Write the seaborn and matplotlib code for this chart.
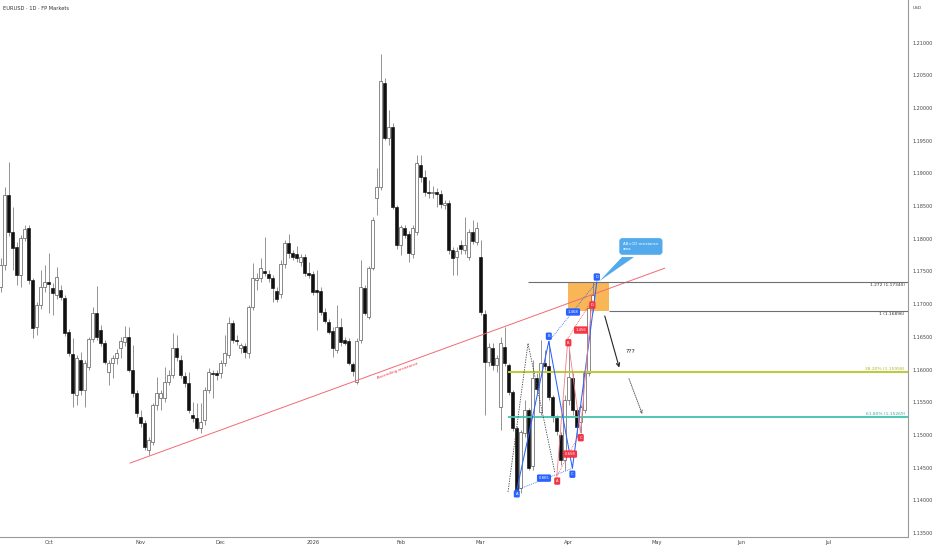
import numpy as np
import pandas as pd
import matplotlib
matplotlib.use("Agg")
import matplotlib.pyplot as plt
import seaborn as sns
from matplotlib.patches import Polygon, Rectangle

sns.set_theme(style="white")
plt.rcParams["font.family"] = ["DejaVu Sans"]

# ---------------- data ----------------
start_date = "2025-09-15"
n_slots = 227

opens = [1.1726, 1.1760, 1.1867, 1.1810, 1.1787, 1.1745, 1.1801, 1.1816, 1.1737, 1.1665,
         1.1699, 1.1726, 1.1734, 1.1725, 1.1714, 1.1722, 1.1709, 1.1657, 1.1624, 1.1561,
         1.1615, 1.1569, 1.1604, 1.1647, 1.1686, 1.1660, 1.1641, 1.1596, 1.1610, 1.1618,
         1.1633, 1.1642, 1.1650, 1.1599, 1.1564, 1.1527, 1.1518, 1.1477, 1.1489, 1.1546,
         1.1556, 1.1556, 1.1581, 1.1592, 1.1633, 1.1615, 1.1590, 1.1579, 1.1530, 1.1526,
         1.1511, 1.1523, 1.1569, 1.1595, 1.1595, 1.1595, 1.1610, 1.1622, 1.1671, 1.1645,
         1.1633, 1.1636, 1.1625, 1.1696, 1.1737, 1.1740, 1.1751, 1.1746, 1.1740, 1.1720,
         1.1715, 1.1761, 1.1794, 1.1778, 1.1777, 1.1764, 1.1772, 1.1748, 1.1746, 1.1722,
         1.1720, 1.1688, 1.1673, 1.1659, 1.1630, 1.1665, 1.1645, 1.1644, 1.1608, 1.1581,
         1.1645, 1.1725, 1.1680, 1.1755, 1.1862, 1.1879, 1.2038, 1.1954, 1.1971, 1.1849,
         1.1790, 1.1816, 1.1807, 1.1777, 1.1810, 1.1913, 1.1894, 1.1871, 1.1870, 1.1871,
         1.1868, 1.1852, 1.1855, 1.1783, 1.1772, 1.1790, 1.1783, 1.1772, 1.1810, 1.1795,
         1.1772, 1.1685, 1.1612, 1.1633, 1.1607, 1.1543, 1.1634, 1.1607, 1.1566, 1.1511,
         1.1419, 1.1503, 1.1538, 1.1452, 1.1587, 1.1535, 1.1610, 1.1605, 1.1558, 1.1526,
         1.1500, 1.1462, 1.1553, 1.1587, 1.1538, 1.1520, 1.1538, 1.1595, 1.1694]
highs = [1.1771, 1.1879, 1.1917, 1.1849, 1.1795, 1.1806, 1.1821, 1.1821, 1.1740, 1.1703,
         1.1752, 1.1760, 1.1778, 1.1733, 1.1757, 1.1729, 1.1714, 1.1662, 1.1648, 1.1622,
         1.1627, 1.1615, 1.1650, 1.1696, 1.1728, 1.1668, 1.1645, 1.1615, 1.1622, 1.1632,
         1.1650, 1.1667, 1.1665, 1.1637, 1.1569, 1.1538, 1.1523, 1.1497, 1.1549, 1.1589,
         1.1569, 1.1604, 1.1599, 1.1656, 1.1653, 1.1622, 1.1596, 1.1596, 1.1550, 1.1549,
         1.1549, 1.1573, 1.1602, 1.1599, 1.1599, 1.1615, 1.1653, 1.1680, 1.1676, 1.1653,
         1.1641, 1.1641, 1.1699, 1.1763, 1.1748, 1.1771, 1.1803, 1.1752, 1.1745, 1.1726,
         1.1767, 1.1798, 1.1807, 1.1783, 1.1789, 1.1777, 1.1777, 1.1764, 1.1751, 1.1752,
         1.1726, 1.1694, 1.1677, 1.1665, 1.1699, 1.1679, 1.1650, 1.1648, 1.1612, 1.1648,
         1.1767, 1.1729, 1.1758, 1.1833, 1.1908, 1.2082, 1.2046, 1.1997, 1.1977, 1.1852,
         1.1821, 1.1821, 1.1812, 1.1821, 1.1928, 1.1928, 1.1905, 1.1890, 1.1880, 1.1877,
         1.1874, 1.1859, 1.1859, 1.1787, 1.1787, 1.1798, 1.1833, 1.1815, 1.1829, 1.1826,
         1.1798, 1.1691, 1.1641, 1.1641, 1.1622, 1.1650, 1.1665, 1.1610, 1.1569, 1.1514,
         1.1508, 1.1553, 1.1541, 1.1615, 1.1595, 1.1645, 1.1630, 1.1643, 1.1561, 1.1530,
         1.1505, 1.1561, 1.1630, 1.1595, 1.1541, 1.1546, 1.1599, 1.1699, 1.1734]
lows = [1.1719, 1.1752, 1.1804, 1.1752, 1.1729, 1.1726, 1.1797, 1.1731, 1.1648, 1.1653,
        1.1693, 1.1719, 1.1686, 1.1683, 1.1708, 1.1706, 1.1651, 1.1621, 1.1543, 1.1546,
        1.1561, 1.1543, 1.1599, 1.1642, 1.1645, 1.1636, 1.1608, 1.1576, 1.1587, 1.1608,
        1.1618, 1.1636, 1.1596, 1.1558, 1.1527, 1.1512, 1.1477, 1.1469, 1.1484, 1.1538,
        1.1538, 1.1550, 1.1576, 1.1587, 1.1613, 1.1587, 1.1573, 1.1533, 1.1520, 1.1508,
        1.1503, 1.1515, 1.1564, 1.1556, 1.1584, 1.1587, 1.1605, 1.1618, 1.1641, 1.1637,
        1.1625, 1.1618, 1.1618, 1.1691, 1.1722, 1.1734, 1.1743, 1.1734, 1.1703, 1.1703,
        1.1709, 1.1755, 1.1771, 1.1767, 1.1764, 1.1758, 1.1743, 1.1740, 1.1714, 1.1660,
        1.1683, 1.1671, 1.1654, 1.1619, 1.1625, 1.1636, 1.1637, 1.1607, 1.1590, 1.1578,
        1.1641, 1.1683, 1.1677, 1.1752, 1.1836, 1.1874, 1.1951, 1.1944, 1.1846, 1.1784,
        1.1775, 1.1801, 1.1764, 1.1771, 1.1806, 1.1887, 1.1865, 1.1862, 1.1862, 1.1849,
        1.1847, 1.1846, 1.1777, 1.1745, 1.1745, 1.1777, 1.1777, 1.1767, 1.1792, 1.1790,
        1.1683, 1.1530, 1.1605, 1.1599, 1.1596, 1.1508, 1.1605, 1.1561, 1.1506, 1.1411,
        1.1411, 1.1497, 1.1446, 1.1446, 1.1564, 1.1530, 1.1599, 1.1553, 1.1520, 1.1500,
        1.1454, 1.1446, 1.1546, 1.1530, 1.1497, 1.1503, 1.1533, 1.1590, 1.1688]
closes = [1.1760, 1.1867, 1.1810, 1.1786, 1.1745, 1.1801, 1.1815, 1.1737, 1.1663, 1.1699,
          1.1726, 1.1734, 1.1731, 1.1717, 1.1742, 1.1711, 1.1656, 1.1625, 1.1564, 1.1618,
          1.1569, 1.1610, 1.1647, 1.1686, 1.1650, 1.1641, 1.1612, 1.1610, 1.1618, 1.1625,
          1.1644, 1.1650, 1.1599, 1.1564, 1.1534, 1.1518, 1.1482, 1.1492, 1.1546, 1.1564,
          1.1564, 1.1581, 1.1592, 1.1633, 1.1619, 1.1592, 1.1579, 1.1538, 1.1526, 1.1511,
          1.1520, 1.1569, 1.1596, 1.1593, 1.1592, 1.1610, 1.1625, 1.1671, 1.1645, 1.1644,
          1.1637, 1.1627, 1.1696, 1.1740, 1.1740, 1.1755, 1.1748, 1.1740, 1.1725, 1.1708,
          1.1761, 1.1794, 1.1778, 1.1772, 1.1771, 1.1772, 1.1748, 1.1745, 1.1719, 1.1719,
          1.1688, 1.1674, 1.1657, 1.1633, 1.1665, 1.1642, 1.1641, 1.1610, 1.1598, 1.1643,
          1.1726, 1.1686, 1.1755, 1.1829, 1.1879, 1.2041, 1.1954, 1.1971, 1.1849, 1.1790,
          1.1818, 1.1806, 1.1778, 1.1816, 1.1916, 1.1894, 1.1871, 1.1870, 1.1871, 1.1868,
          1.1853, 1.1855, 1.1783, 1.1771, 1.1781, 1.1784, 1.1790, 1.1810, 1.1797, 1.1816,
          1.1688, 1.1612, 1.1634, 1.1607, 1.1618, 1.1641, 1.1610, 1.1566, 1.1511, 1.1416,
          1.1505, 1.1538, 1.1449, 1.1587, 1.1570, 1.1610, 1.1605, 1.1558, 1.1527, 1.1506,
          1.1462, 1.1553, 1.1589, 1.1538, 1.1512, 1.1543, 1.1595, 1.1694, 1.1714]

month_labels = ["Oct", "Nov", "Dec", "2026", "Feb", "Mar", "Apr", "May", "Jun", "Jul"]
price_ticks = [1.135, 1.140, 1.145, 1.150, 1.155, 1.160, 1.165, 1.170, 1.175,
               1.180, 1.185, 1.190, 1.195, 1.200, 1.205, 1.210]

# trend line (bar index, price)
trend_x = [32.3, 166.0]
trend_y = [1.1457, 1.1755]

# fib / projection levels
lvl_names = ["1.272 (1.17340)", "1 (1.16896)", "38.20% (1.15958)", "61.80% (1.15269)"]
lvl_prices = [1.17340, 1.16896, 1.15958, 1.15269]
lvl_start = [131.8, 152.05, 126.8, 126.8]

# harmonic patterns (bar index, price)
blue_x = [129.0, 137.0, 142.9, 149.0]
blue_y = [1.1416, 1.1643, 1.1449, 1.1734]
red_x = [139.0, 141.8, 144.9, 147.8]
red_y = [1.1437, 1.1648, 1.1504, 1.1706]
black_x = [126.8, 131.8, 138.5]
black_y = [1.1413, 1.1640, 1.1443]
blue_ratios = ["0.865", "1.468"]
red_ratios = ["0.658", "1.456"]

# ---------------- figure ----------------
W, H = 932, 550
fig = plt.figure(figsize=(W / 100, H / 100), dpi=100)
ax = fig.add_axes([0, 13 / H, 908 / W, 537 / H])
ax.set_facecolor("white")

n = len(closes)
idx = np.arange(n)
o = np.array(opens); c = np.array(closes)
h = np.array(highs); l = np.array(lows)
up = c >= o

# wicks
ax.vlines(idx, l, h, color="#777777", lw=0.55, zorder=2)
# bodies
bottom = np.minimum(o, c)
height = np.maximum(np.abs(c - o), 0.00012)
ax.bar(idx[up], height[up], bottom=bottom[up], width=0.68, color="white",
       edgecolor="#4a4a4a", linewidth=0.45, zorder=3)
ax.bar(idx[~up], height[~up], bottom=bottom[~up], width=0.68, color="#111111",
       edgecolor="#111111", linewidth=0.45, zorder=3)

ax.set_xlim(-0.2, 226.8)
ax.set_ylim(1.1344, 1.2165)

# month ticks
dates = pd.bdate_range(start_date, periods=n_slots)
months = pd.period_range("2025-10", "2026-07", freq="M")
pos = [int(np.argmax((dates.year == m.year) & (dates.month == m.month))) for m in months]
ax.set_xticks(pos)
ax.set_xticklabels(month_labels)
ax.set_yticks(price_ticks)
ax.set_yticklabels([f"{v:.5f}" for v in price_ticks])
ax.yaxis.tick_right()
ax.tick_params(axis="x", length=0, pad=2.5, labelsize=3.7, labelcolor="#444444")
ax.tick_params(axis="y", length=0, pad=3, labelsize=3.5, labelcolor="#444444")
for s in ["top", "left"]:
    ax.spines[s].set_visible(False)
for s in ["right", "bottom"]:
    ax.spines[s].set_color("#9a9a9a")
    ax.spines[s].set_linewidth(0.8)

# ascending resistance
sns.lineplot(x=trend_x, y=trend_y, ax=ax, color="#f26a74", lw=0.7, zorder=4, sort=False)
ax.text(99.3, 1.15977, "Ascending resistance", rotation=20, ha="center", va="center",
        fontsize=2.9, color="#f23645", rotation_mode="anchor", zorder=5)

# orange zone
ax.add_patch(Rectangle((141.8, lvl_prices[1]), 152.05 - 141.8, lvl_prices[0] - lvl_prices[1],
                       facecolor="#f8a93a", edgecolor="none", alpha=0.85, zorder=1.5))

# levels
lvl_colors = ["#6d6f78", "#6d6f78", "#bccb3c", "#45c2ae"]
lvl_lw = [0.8, 0.8, 1.5, 1.3]
lvl_text_colors = ["#333333", "#333333", "#a6b82a", "#2bb39c"]
for name, p, x0, col, lw, tc in zip(lvl_names, lvl_prices, lvl_start, lvl_colors, lvl_lw, lvl_text_colors):
    ax.hlines(p, x0, 226.8, color=col, lw=lw, zorder=4)
    if p > 1.165:
        ax.text(226.0, p - 0.0002, name, ha="right", va="top", fontsize=3.2, color=tc, zorder=5)
    else:
        ax.text(226.0, p + 0.00025, name, ha="right", va="bottom", fontsize=3.2, color=tc, zorder=5)

# black dashed swing
sns.lineplot(x=black_x, y=black_y, ax=ax, color="#444444", lw=0.6, sort=False, zorder=4,
             linestyle=(0, (1.6, 1.4)))

# blue pattern
blue = "#2962ff"
sns.lineplot(x=blue_x, y=blue_y, ax=ax, color=blue, lw=0.75, sort=False, zorder=5)
ax.plot([blue_x[0], blue_x[2]], [blue_y[0], blue_y[2]], color=blue, lw=0.6, ls=(0, (1, 1.3)), zorder=5)
ax.plot([blue_x[1], blue_x[3]], [blue_y[1], blue_y[3]], color=blue, lw=0.6, ls=(0, (1, 1.3)), zorder=5)

# red pattern
red = "#f23645"
sns.lineplot(x=red_x, y=red_y, ax=ax, color="#f47d86", lw=0.6, sort=False, zorder=5)
ax.plot([red_x[0], red_x[2]], [red_y[0], red_y[2]], color=red, lw=0.55, ls=(0, (1, 1.3)), zorder=5)
ax.plot([red_x[1], red_x[3]], [red_y[1], red_y[3]], color=red, lw=0.55, ls=(0, (1, 1.3)), zorder=5)


def tag(x, y, s, fc):
    ax.text(x, y, s, ha="center", va="center", fontsize=2.7, color="white", zorder=7,
            bbox=dict(boxstyle="round,pad=0.45,rounding_size=0.35", fc=fc, ec="none"))


letters = ["A", "B", "C", "D"]
blue_tag_y = [1.1410, 1.1651, 1.1440, 1.17415]
for x, y, s in zip(blue_x, blue_tag_y, letters):
    tag(x, y, s, blue)
red_tag_y = [1.14295, 1.1641, 1.14958, 1.16987]
for x, y, s in zip(red_x, red_tag_y, letters):
    tag(x + 0.1, y, s, red)
tag(135.8, 1.1434, blue_ratios[0], blue)
tag(143.05, 1.1688, blue_ratios[1], blue)
tag(142.3, 1.14708, red_ratios[0], red)
tag(145.05, 1.16604, red_ratios[1], red)

# callout
call_col = "#52aaec"
ax.add_patch(Polygon([(155.3, 1.1772), (158.3, 1.1772), (149.6, 1.1735)], closed=True,
                     facecolor=call_col, edgecolor="none", zorder=6))
ax.text(155.6, 1.1795, "AB=CD resistance\narea", ha="left", va="top", fontsize=2.8,
        color="white", linespacing=1.3, zorder=7,
        bbox=dict(boxstyle="round,pad=1.0,rounding_size=0.8", fc=call_col, ec="none"))

# projection arrows
ax.annotate("", xy=(154.8, 1.1599), xytext=(150.8, 1.1686),
            arrowprops=dict(arrowstyle="->", color="#222222", lw=0.8, mutation_scale=6), zorder=6)
ax.annotate("", xy=(160.6, 1.1528), xytext=(156.8, 1.1590),
            arrowprops=dict(arrowstyle="->", color="#666666", lw=0.7, ls=(0, (1, 1.2)),
                            mutation_scale=5), zorder=6)
ax.text(157.3, 1.1628, "???", ha="center", va="center", fontsize=4.4, color="#222222", zorder=6)

# header texts
fig.text(3 / W, 1 - 8 / H, "EURUSD · 1D · FP Markets", fontsize=3.7, color="#333333", va="center")
fig.text(913 / W, 1 - 8 / H, "USD", fontsize=3.2, color="#444444", va="center")

fig.savefig("out.png", dpi=100)
